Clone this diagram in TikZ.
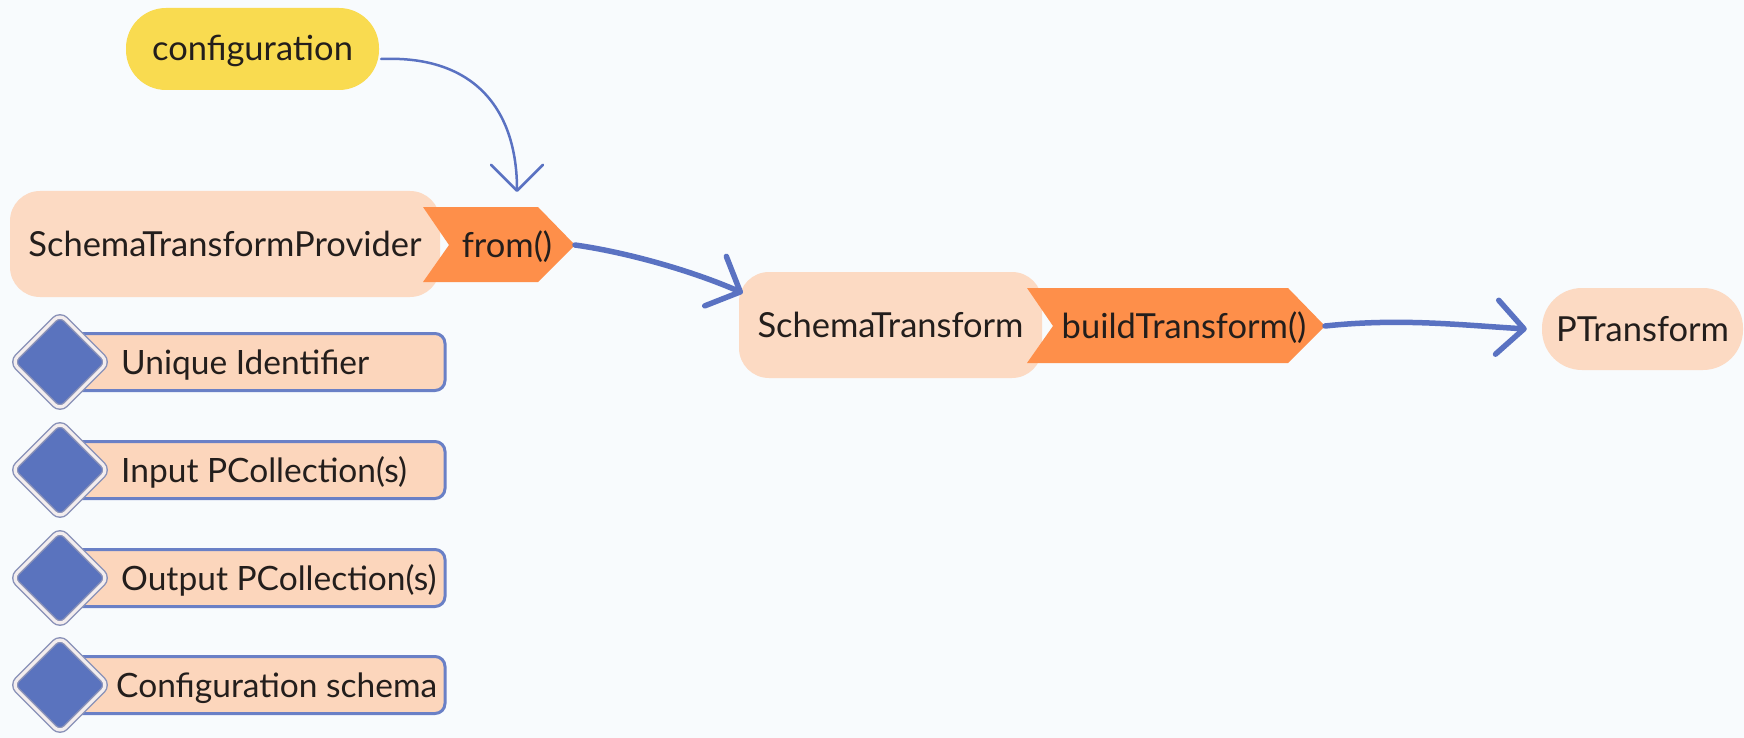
\documentclass[tikz,border=0pt]{standalone}
\usepackage{fontspec}
\setmainfont{Lato}
\usetikzlibrary{arrows.meta,shapes.geometric}

\definecolor{bg}{HTML}{F8FBFD}
\definecolor{cfgyellow}{HTML}{F9DB50}
\definecolor{peach}{HTML}{FCDAC3}
\definecolor{itemfill}{HTML}{FCD6BC}
\definecolor{methodorange}{HTML}{FE8F4A}
\definecolor{lineblue}{HTML}{5A72C2}
\definecolor{gemblue}{HTML}{5A73BE}
\definecolor{gemedge}{HTML}{8A92B8}
\definecolor{gemring}{HTML}{F3EDEE}
\definecolor{itemedge}{HTML}{6A80C6}
\definecolor{ink}{HTML}{231E1C}

\begin{document}
\begin{tikzpicture}[x=1pt,y=-1pt,
  lbl/.style={font=\fontsize{34.5}{40}\selectfont, text=ink,
    text height=24pt, text depth=0pt, inner sep=0pt},
  itemlbl/.style={lbl, font=\fontsize{33.5}{40}\selectfont},
  block/.style={lbl, rectangle, fill=peach},
  pill/.style={block, minimum height=82pt, rounded corners=40pt},
  panel/.style={block, minimum height=106pt, rounded corners=30pt},
  method/.style={methodorange},
  item/.style={rectangle, minimum width=385pt, minimum height=57pt,
    fill=itemfill, draw=itemedge, line width=3pt, rounded corners=10pt,
    inner sep=0pt},
  gem/.style={diamond, aspect=1, minimum width=97pt, minimum height=97pt,
    inner sep=0pt, fill=gemblue, draw=gemedge, double=gemring,
    double distance=3.2pt, line width=1.4pt, rounded corners=8pt},
  thinlink/.style={draw=lineblue, line width=2.5pt, line cap=round,
    -{Straight Barb[length=26pt,width=52pt,round]}},
  thicklink/.style={draw=lineblue, line width=5.5pt, line cap=round,
    -{Straight Barb[length=27pt,width=54pt,round]}}]

% canvas
\fill[bg] (0,0) rectangle (1744,738);
\useasboundingbox (0,0) rectangle (1744,738);

% configuration input
\node[pill, fill=cfgyellow, minimum width=253pt] (cfg) at (252.5,49) {configuration};

% provider with its from() method
\node[panel, minimum width=430pt] (stp) at (225,244) {SchemaTransformProvider};
\fill[method] (423,207) -- (538,207) -- (575,245) -- (538,282) -- (423,282) -- (449,245) -- cycle;
\node[lbl] (from) at (507,245) {from()};
\coordinate (fromtip) at (575,245);

% schema transform with its buildTransform() method
\node[panel, minimum width=303pt] (st) at (890.5,325) {SchemaTransform};
\fill[method] (1027,288) -- (1288,288) -- (1325,326) -- (1288,363) -- (1027,363) -- (1053,326) -- cycle;
\node[lbl] (build) at (1184,326) {buildTransform()};
\coordinate (buildtip) at (1325,326);

% resulting PTransform
\node[pill, minimum width=201pt] (pt) at (1642.5,329) {PTransform};

% provider properties
\foreach \i/\yy/\tx/\t in {1/362/121/{Unique Identifier},
                           2/470/121/{Input PCollection(s)},
                           3/578/121/{Output PCollection(s)},
                           4/685/116/{Configuration schema}} {
  \node[item] (r\i) at (252.5,\yy) {};
  \node[gem] (d\i) at (60,\yy) {};
  \node[itemlbl, anchor=west] (t\i) at (\tx,\yy) {\t};
}

% connectors
\draw[thinlink] ([shift={(2,10)}]cfg.east) .. controls (475,55) and (517,110) .. ([shift={(10,-53)}]from.center);
\draw[thicklink] (fromtip) .. controls (625,252) and (690,270) .. ([shift={(4,-32)}]st.west);
\draw[thicklink] (buildtip) .. controls (1400,318) and (1460,325) .. ([shift={(-15,0)}]pt.west);
\end{tikzpicture}
\end{document}
